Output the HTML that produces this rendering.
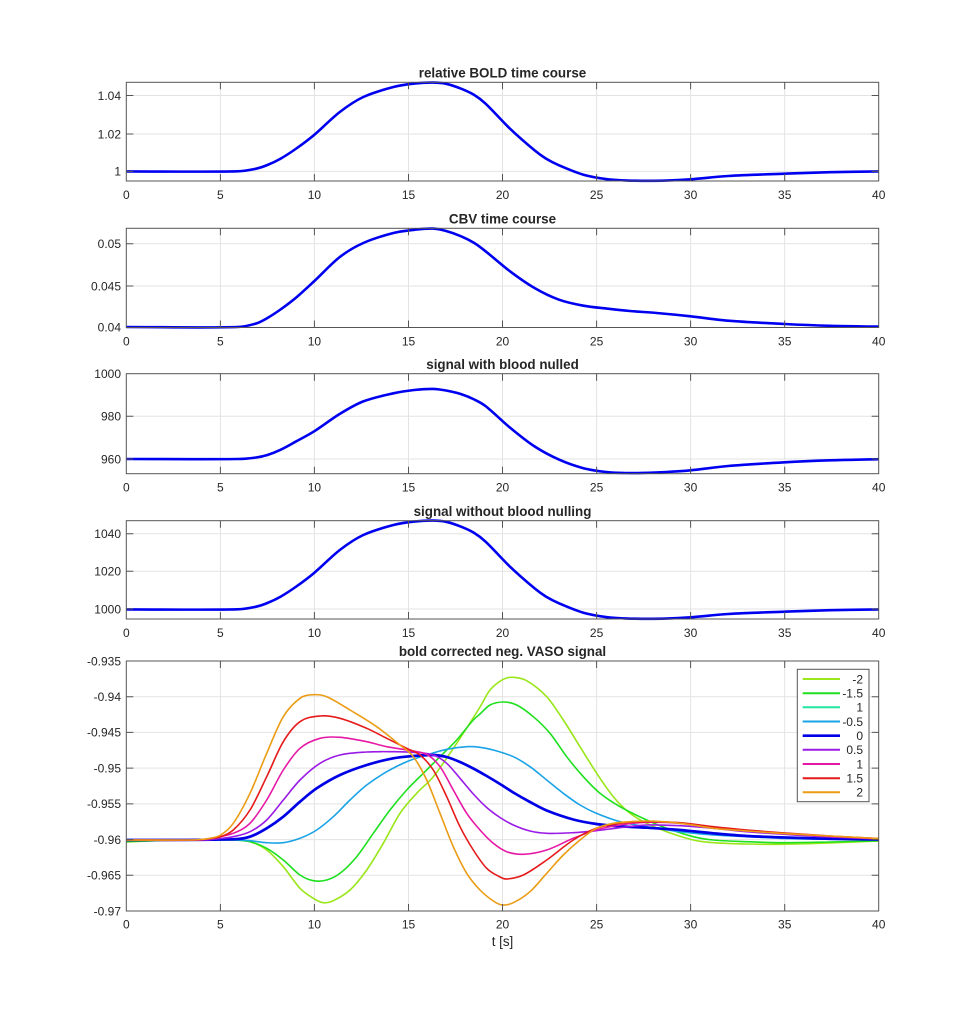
<!DOCTYPE html>
<html><head><meta charset="utf-8"><style>
html,body{margin:0;padding:0;background:#fff;}
svg{display:block;}
text{font-family:"Liberation Sans",Arial,sans-serif;fill:#262626;}
.tk{font-size:12px;}
.tt{font-size:13.4px;font-weight:bold;}
</style></head><body>
<svg id="fig" width="971" height="1024" viewBox="0 0 971 1024" xmlns="http://www.w3.org/2000/svg">
<rect width="971" height="1024" fill="#fff"/>

<!-- ========== AXES 1 ========== -->
<g>
<g stroke="#e3e3e3" stroke-width="1">
<line x1="220.4" y1="82.3" x2="220.4" y2="181"/><line x1="314.4" y1="82.3" x2="314.4" y2="181"/><line x1="408.5" y1="82.3" x2="408.5" y2="181"/><line x1="502.5" y1="82.3" x2="502.5" y2="181"/><line x1="596.6" y1="82.3" x2="596.6" y2="181"/><line x1="690.6" y1="82.3" x2="690.6" y2="181"/><line x1="784.7" y1="82.3" x2="784.7" y2="181"/>
<line x1="126.3" y1="95.5" x2="878.7" y2="95.5"/><line x1="126.3" y1="134" x2="878.7" y2="134"/><line x1="126.3" y1="171.4" x2="878.7" y2="171.4"/>
</g>
<polyline class="sm" fill="none" stroke="#0000f0" stroke-width="2.6" stroke-linejoin="round" points="126.3,171.4 237.3,171.3 256.1,168.7 267.4,165 280.5,158.7 295.6,149 314.4,134.7 339.8,112 363.3,97 393.4,87 414.1,83.6 432.9,82.6 446.1,83.8 461.1,88.7 474.3,95 485.6,103.7 510,128.7 534.5,150.3 545.8,158.5 559,165.3 583.4,174.7 607.8,179.3 624.8,180.4 641.7,180.8 666.2,180.6 690.6,179.3 728.2,176 784.7,173.7 830,172.2 878.7,171.4"/>
<g stroke="#555" stroke-width="1" fill="none">
<rect x="126.3" y="82.3" width="752.4" height="98.7"/>
<path d="M220.4 181v-7M314.4 181v-7M408.5 181v-7M502.5 181v-7M596.6 181v-7M690.6 181v-7M784.7 181v-7M220.4 82.3v7M314.4 82.3v7M408.5 82.3v7M502.5 82.3v7M596.6 82.3v7M690.6 82.3v7M784.7 82.3v7M126.3 95.5h7M126.3 134h7M126.3 171.4h7M878.7 95.5h-7M878.7 134h-7M878.7 171.4h-7"/>
</g>
<text class="tt" x="502.5" y="77.5" text-anchor="middle">relative BOLD time course</text>
<g class="tk" text-anchor="end"><text x="121" y="99.8">1.04</text><text x="121" y="138.3">1.02</text><text x="121" y="175.7">1</text></g>
<g class="tk" text-anchor="middle"><text x="126.3" y="199">0</text><text x="220.4" y="199">5</text><text x="314.4" y="199">10</text><text x="408.5" y="199">15</text><text x="502.5" y="199">20</text><text x="596.6" y="199">25</text><text x="690.6" y="199">30</text><text x="784.7" y="199">35</text><text x="878.7" y="199">40</text></g>
</g>

<!-- ========== AXES 2 ========== -->
<g>
<g stroke="#e3e3e3" stroke-width="1">
<line x1="220.4" y1="228.3" x2="220.4" y2="327.5"/><line x1="314.4" y1="228.3" x2="314.4" y2="327.5"/><line x1="408.5" y1="228.3" x2="408.5" y2="327.5"/><line x1="502.5" y1="228.3" x2="502.5" y2="327.5"/><line x1="596.6" y1="228.3" x2="596.6" y2="327.5"/><line x1="690.6" y1="228.3" x2="690.6" y2="327.5"/><line x1="784.7" y1="228.3" x2="784.7" y2="327.5"/>
<line x1="126.3" y1="243.7" x2="878.7" y2="243.7"/><line x1="126.3" y1="286" x2="878.7" y2="286"/>
</g>
<polyline class="sm" fill="none" stroke="#0000f0" stroke-width="2.6" stroke-linejoin="round" points="126.3,327 237.3,327 256.1,323.5 267.4,318 280.5,309.5 295.6,298 314.4,281 339.8,257 363.3,243 393.4,233 414.1,229.8 432.9,228.6 446.1,231 461.1,236.3 474.3,243 485.6,251.3 510,271.3 534.5,288 559,299.7 583.4,305.7 607.8,308.7 630,311 656.7,313 690.6,316.3 728.2,320.7 784.7,324 830,325.8 878.7,326.6"/>
<g stroke="#555" stroke-width="1" fill="none">
<rect x="126.3" y="228.3" width="752.4" height="99.2"/>
<path d="M220.4 327.5v-7M314.4 327.5v-7M408.5 327.5v-7M502.5 327.5v-7M596.6 327.5v-7M690.6 327.5v-7M784.7 327.5v-7M220.4 228.3v7M314.4 228.3v7M408.5 228.3v7M502.5 228.3v7M596.6 228.3v7M690.6 228.3v7M784.7 228.3v7M126.3 243.7h7M126.3 286h7M878.7 243.7h-7M878.7 286h-7"/>
</g>
<text class="tt" x="502.5" y="223.5" text-anchor="middle">CBV time course</text>
<g class="tk" text-anchor="end"><text x="121" y="248">0.05</text><text x="121" y="290.3">0.045</text><text x="121" y="331.6">0.04</text></g>
<g class="tk" text-anchor="middle"><text x="126.3" y="345.5">0</text><text x="220.4" y="345.5">5</text><text x="314.4" y="345.5">10</text><text x="408.5" y="345.5">15</text><text x="502.5" y="345.5">20</text><text x="596.6" y="345.5">25</text><text x="690.6" y="345.5">30</text><text x="784.7" y="345.5">35</text><text x="878.7" y="345.5">40</text></g>
</g>

<!-- ========== AXES 3 ========== -->
<g>
<g stroke="#e3e3e3" stroke-width="1">
<line x1="220.4" y1="373.7" x2="220.4" y2="473.7"/><line x1="314.4" y1="373.7" x2="314.4" y2="473.7"/><line x1="408.5" y1="373.7" x2="408.5" y2="473.7"/><line x1="502.5" y1="373.7" x2="502.5" y2="473.7"/><line x1="596.6" y1="373.7" x2="596.6" y2="473.7"/><line x1="690.6" y1="373.7" x2="690.6" y2="473.7"/><line x1="784.7" y1="373.7" x2="784.7" y2="473.7"/>
<line x1="126.3" y1="416.3" x2="878.7" y2="416.3"/><line x1="126.3" y1="459" x2="878.7" y2="459"/>
</g>
<polyline class="sm" fill="none" stroke="#0000f0" stroke-width="2.6" stroke-linejoin="round" points="126.3,459 237.3,459 256.1,457.5 267.4,455 280.5,449.8 295.6,441.7 314.4,431.2 339.8,413.9 363.3,401.4 393.4,393.3 414.1,390 432.9,388.9 446.1,390.5 461.1,394.1 474.3,399.5 485.6,406.1 510,427.6 534.5,446.4 559,459.6 583.4,468.2 607.8,472.2 624.8,473 641.7,472.9 666.2,472 690.6,470.3 728.2,466 784.7,462.3 830,460.3 878.7,459.2"/>
<g stroke="#555" stroke-width="1" fill="none">
<rect x="126.3" y="373.7" width="752.4" height="100"/>
<path d="M220.4 473.7v-7M314.4 473.7v-7M408.5 473.7v-7M502.5 473.7v-7M596.6 473.7v-7M690.6 473.7v-7M784.7 473.7v-7M220.4 373.7v7M314.4 373.7v7M408.5 373.7v7M502.5 373.7v7M596.6 373.7v7M690.6 373.7v7M784.7 373.7v7M126.3 416.3h7M126.3 459h7M878.7 416.3h-7M878.7 459h-7"/>
</g>
<text class="tt" x="502.5" y="369" text-anchor="middle">signal with blood nulled</text>
<g class="tk" text-anchor="end"><text x="121" y="378">1000</text><text x="121" y="420.6">980</text><text x="121" y="463.3">960</text></g>
<g class="tk" text-anchor="middle"><text x="126.3" y="491.7">0</text><text x="220.4" y="491.7">5</text><text x="314.4" y="491.7">10</text><text x="408.5" y="491.7">15</text><text x="502.5" y="491.7">20</text><text x="596.6" y="491.7">25</text><text x="690.6" y="491.7">30</text><text x="784.7" y="491.7">35</text><text x="878.7" y="491.7">40</text></g>
</g>

<!-- ========== AXES 4 ========== -->
<g>
<g stroke="#e3e3e3" stroke-width="1">
<line x1="220.4" y1="520.7" x2="220.4" y2="619"/><line x1="314.4" y1="520.7" x2="314.4" y2="619"/><line x1="408.5" y1="520.7" x2="408.5" y2="619"/><line x1="502.5" y1="520.7" x2="502.5" y2="619"/><line x1="596.6" y1="520.7" x2="596.6" y2="619"/><line x1="690.6" y1="520.7" x2="690.6" y2="619"/><line x1="784.7" y1="520.7" x2="784.7" y2="619"/>
<line x1="126.3" y1="533.7" x2="878.7" y2="533.7"/><line x1="126.3" y1="571.3" x2="878.7" y2="571.3"/><line x1="126.3" y1="609" x2="878.7" y2="609"/>
</g>
<polyline class="sm" transform="translate(0,438)" fill="none" stroke="#0000f0" stroke-width="2.6" stroke-linejoin="round" points="126.3,171.4 237.3,171.3 256.1,168.7 267.4,165 280.5,158.7 295.6,149 314.4,134.7 339.8,112 363.3,97 393.4,87 414.1,83.6 432.9,82.6 446.1,83.8 461.1,88.7 474.3,95 485.6,103.7 510,128.7 534.5,150.3 545.8,158.5 559,165.3 583.4,174.7 607.8,179.3 624.8,180.4 641.7,180.8 666.2,180.6 690.6,179.3 728.2,176 784.7,173.7 830,172.2 878.7,171.4"/>
<g stroke="#555" stroke-width="1" fill="none">
<rect x="126.3" y="520.7" width="752.4" height="98.3"/>
<path d="M220.4 619v-7M314.4 619v-7M408.5 619v-7M502.5 619v-7M596.6 619v-7M690.6 619v-7M784.7 619v-7M220.4 520.7v7M314.4 520.7v7M408.5 520.7v7M502.5 520.7v7M596.6 520.7v7M690.6 520.7v7M784.7 520.7v7M126.3 533.7h7M126.3 571.3h7M126.3 609h7M878.7 533.7h-7M878.7 571.3h-7M878.7 609h-7"/>
</g>
<text class="tt" x="502.5" y="516" text-anchor="middle">signal without blood nulling</text>
<g class="tk" text-anchor="end"><text x="121" y="538">1040</text><text x="121" y="575.6">1020</text><text x="121" y="613.3">1000</text></g>
<g class="tk" text-anchor="middle"><text x="126.3" y="637">0</text><text x="220.4" y="637">5</text><text x="314.4" y="637">10</text><text x="408.5" y="637">15</text><text x="502.5" y="637">20</text><text x="596.6" y="637">25</text><text x="690.6" y="637">30</text><text x="784.7" y="637">35</text><text x="878.7" y="637">40</text></g>
</g>

<!-- ========== AXES 5 ========== -->
<g>
<g stroke="#e3e3e3" stroke-width="1">
<line x1="220.4" y1="661" x2="220.4" y2="911"/><line x1="314.4" y1="661" x2="314.4" y2="911"/><line x1="408.5" y1="661" x2="408.5" y2="911"/><line x1="502.5" y1="661" x2="502.5" y2="911"/><line x1="596.6" y1="661" x2="596.6" y2="911"/><line x1="690.6" y1="661" x2="690.6" y2="911"/><line x1="784.7" y1="661" x2="784.7" y2="911"/>
<line x1="126.3" y1="696.7" x2="878.7" y2="696.7"/><line x1="126.3" y1="732.4" x2="878.7" y2="732.4"/><line x1="126.3" y1="768.1" x2="878.7" y2="768.1"/><line x1="126.3" y1="803.9" x2="878.7" y2="803.9"/><line x1="126.3" y1="839.6" x2="878.7" y2="839.6"/><line x1="126.3" y1="875.3" x2="878.7" y2="875.3"/>
</g>
<g fill="none" stroke-width="1.6" stroke-linejoin="round">
<polyline class="sm" stroke="#99e619" points="126.3,842 150,841 170,840 200,840 233.3,840 250,841.7 266.7,850 283.3,866.7 300,888.3 313.3,898.3 323.3,902.7 333.3,900.7 350,890 366.7,870 383.3,843.3 400,813.3 416.7,793.3 433.3,776.7 450,753.3 466.7,728 480,707 490,690 503.3,679.3 513.3,677.3 526.7,680.7 546.7,696.7 563.3,720 580,746.7 596.7,773.3 613.3,796.7 630,813.3 646.7,823.3 666.7,831.7 693.3,840 713.3,842.7 746.7,844 780,844.3 830,843 879,841"/>
<polyline class="sm" stroke="#1ee01e" points="126.3,841.5 160,840.5 200,840 233.3,840 250,841.7 266.7,848.3 283.3,860 300,875 313.3,880.7 326.7,880 340,873.3 356.7,856.7 373.3,833.3 390,810 406.7,790 423.3,773.3 440,756.7 456.7,740 473.3,720 480,714 490,705 503.3,702 516.7,705 533.3,716.7 550,733.3 566.7,756.7 583.3,776.7 600,793.3 620,806.7 646.7,820 666.7,828.3 693.3,836.7 713.3,840 746.7,841.7 780,842.7 830,842 879,840.8"/>
<polyline class="sm" stroke="#1aa3e6" points="126.3,840 233.3,840 250,840.7 266.7,842.7 283.3,842.7 300,838.3 316.7,830 333.3,816.7 350,800 366.7,785 386.7,771.7 406.7,761.7 426.7,755 446.7,749.3 466.7,746.7 480,747.3 493.3,750 513.3,756.7 530,766.7 546.7,780 563.3,793.3 580,805 596.3,813.3 620,821.7 646.7,826.7 680,831.7 713.3,835 746.7,836.7 780,838.3 830,839.3 879,839.8"/>
<polyline class="sm" stroke="#0000e6" stroke-width="2.7" points="126.3,840 233.3,839.3 250,836.7 266.7,828.3 283.3,816.7 300,801.7 316.7,788.3 340,775 366.7,765 393.3,758.3 413.3,756 433.3,755 446.7,757 460,762 473.3,768.5 486.7,776 500,784 513.3,792.5 530,802 546.7,810.5 573.3,819.5 596.3,824 620,826.3 646.7,827.7 680,830 713.3,833.3 746.7,836 780,837.3 830,838.8 879,839.5"/>
<polyline class="sm" stroke="#9a1ae6" points="126.3,840 205,840 220,838.5 233.3,836.7 250,831.7 266.7,820 283.3,800 300,780 320,763.3 340,755 366.7,752 393.3,751.7 413.3,752.3 433.3,755 446.7,763.3 460,778.3 473.3,794 486.7,807.5 500,817.5 513.3,825 530,831 546.7,833.3 573.3,832.7 596.3,830.7 620,827.7 646.7,825 680,825.7 713.3,828.3 746.7,831.7 780,834 830,837 879,839"/>
<polyline class="sm" stroke="#e619a6" points="126.3,840 200,840 215,837.5 233.3,833.3 250,823.3 266.7,800 283.3,770 300,748.3 320,738.3 340,737.3 366.7,741.7 386.7,746.7 406.7,750 426.7,754.5 440,766.7 453.3,790 466.7,813.3 480,830 493.3,843.3 506.7,851.7 523.3,854.3 546.7,850 573.3,838.3 596.3,830 620,825 646.7,822.3 680,823.3 713.3,827.3 746.7,830.7 780,833.3 830,836.5 879,838.8"/>
<polyline class="sm" stroke="#e61a1a" points="126.3,840 195,840 208,838.8 220.7,836.7 233.3,830 250,810 266.7,776.7 283.3,741.7 300,721.7 320,716 340,718.3 366.7,728.3 386.7,738.3 406.7,748.3 420,755 433.3,770 446.7,796.7 460,826.7 473.3,850 486.7,868.3 500,877 506.7,879 523.3,875 546.7,860 573.3,840 596.3,828.3 620,823.3 646.7,821.7 680,822.7 713.3,826.7 746.7,830 780,832.7 830,836 879,838.5"/>
<polyline class="sm" stroke="#eb9c14" points="126.3,840 190,840 200,839.5 210,838.3 220.7,835 233.3,823.3 250,793.3 266.7,753.3 283.3,716.7 300,698.3 313.3,694.7 326.7,696.7 350,710 376.7,726.7 400,745 413.3,756.7 426.7,780 440,813.3 453.3,846.7 466.7,873.3 480,890 493.3,901 502.3,905 513.3,902.7 530,891.7 546.7,873.3 563.3,855 580,840 596.3,828.3 613.3,823.3 630,821.7 646.7,821 663.3,821.7 680,823.3 696.7,825.7 713.3,828.3 746.7,831 780,833.3 830,836 879,838.5"/>
</g>
<g stroke="#555" stroke-width="1" fill="none">
<rect x="126.3" y="661" width="752.4" height="250"/>
<path d="M220.4 911v-7M314.4 911v-7M408.5 911v-7M502.5 911v-7M596.6 911v-7M690.6 911v-7M784.7 911v-7M220.4 661v7M314.4 661v7M408.5 661v7M502.5 661v7M596.6 661v7M690.6 661v7M784.7 661v7M126.3 696.7h7M126.3 732.4h7M126.3 768.1h7M126.3 803.9h7M126.3 839.6h7M126.3 875.3h7M878.7 696.7h-7M878.7 732.4h-7M878.7 768.1h-7M878.7 803.9h-7M878.7 839.6h-7M878.7 875.3h-7"/>
</g>
<text class="tt" x="502.5" y="656" text-anchor="middle">bold corrected neg. VASO signal</text>
<g class="tk" text-anchor="end"><text x="121" y="665.3">-0.935</text><text x="121" y="701">-0.94</text><text x="121" y="736.7">-0.945</text><text x="121" y="772.4">-0.95</text><text x="121" y="808.2">-0.955</text><text x="121" y="843.9">-0.96</text><text x="121" y="879.6">-0.965</text><text x="121" y="915.3">-0.97</text></g>
<g class="tk" text-anchor="middle"><text x="126.3" y="928.5">0</text><text x="220.4" y="928.5">5</text><text x="314.4" y="928.5">10</text><text x="408.5" y="928.5">15</text><text x="502.5" y="928.5">20</text><text x="596.6" y="928.5">25</text><text x="690.6" y="928.5">30</text><text x="784.7" y="928.5">35</text><text x="878.7" y="928.5">40</text></g>
<text class="tt" style="font-weight:normal" x="502.5" y="946" text-anchor="middle">t [s]</text>

<!-- legend -->
<rect x="797.3" y="669.3" width="71.7" height="132.4" fill="#fff" stroke="#555" stroke-width="1"/>
<g stroke-width="2">
<line x1="802.7" y1="679" x2="840" y2="679" stroke="#99e619"/>
<line x1="802.7" y1="693.2" x2="840" y2="693.2" stroke="#1ee01e"/>
<line x1="802.7" y1="707.3" x2="840" y2="707.3" stroke="#20e6a0"/>
<line x1="802.7" y1="721.5" x2="840" y2="721.5" stroke="#1aa3e6"/>
<line x1="802.7" y1="735.7" x2="840" y2="735.7" stroke="#0000e6" stroke-width="2.7"/>
<line x1="802.7" y1="749.8" x2="840" y2="749.8" stroke="#9a1ae6"/>
<line x1="802.7" y1="764" x2="840" y2="764" stroke="#e619a6"/>
<line x1="802.7" y1="778.2" x2="840" y2="778.2" stroke="#e61a1a"/>
<line x1="802.7" y1="792.3" x2="840" y2="792.3" stroke="#eb9c14"/>
</g>
<g class="tk" text-anchor="end">
<text x="863" y="683.3">-2</text><text x="863" y="697.5">-1.5</text><text x="863" y="711.6">1</text><text x="863" y="725.8">-0.5</text><text x="863" y="740">0</text><text x="863" y="754.1">0.5</text><text x="863" y="768.3">1</text><text x="863" y="782.5">1.5</text><text x="863" y="796.6">2</text>
</g>
</g>
</svg>
<script>
(function(){
  var NS="http://www.w3.org/2000/svg";
  var pls=document.querySelectorAll("polyline.sm");
  for(var k=0;k<pls.length;k++){
    var pl=pls[k];
    var raw=pl.getAttribute("points").trim().split(/\s+/);
    var P=[];
    for(var i=0;i<raw.length;i++){var a=raw[i].split(",");P.push([+a[0],+a[1]]);}
    var n=P.length; if(n<3) continue;
    var m=[];
    for(var i=0;i<n;i++){
      var a=P[Math.max(0,i-1)], b=P[Math.min(n-1,i+1)];
      m.push((b[1]-a[1])/(b[0]-a[0]));
    }
    var d="M"+P[0][0]+" "+P[0][1];
    for(var i=0;i<n-1;i++){
      var dx=(P[i+1][0]-P[i][0])/3;
      d+=" C"+(P[i][0]+dx).toFixed(2)+" "+(P[i][1]+m[i]*dx).toFixed(2)+" "+(P[i+1][0]-dx).toFixed(2)+" "+(P[i+1][1]-m[i+1]*dx).toFixed(2)+" "+P[i+1][0]+" "+P[i+1][1];
    }
    var p=document.createElementNS(NS,"path");
    for(var j=0;j<pl.attributes.length;j++){
      var at=pl.attributes[j];
      if(at.name!=="points"&&at.name!=="class") p.setAttribute(at.name,at.value);
    }
    p.setAttribute("d",d);
    pl.parentNode.replaceChild(p,pl);
  }
})();
</script>
</body></html>
